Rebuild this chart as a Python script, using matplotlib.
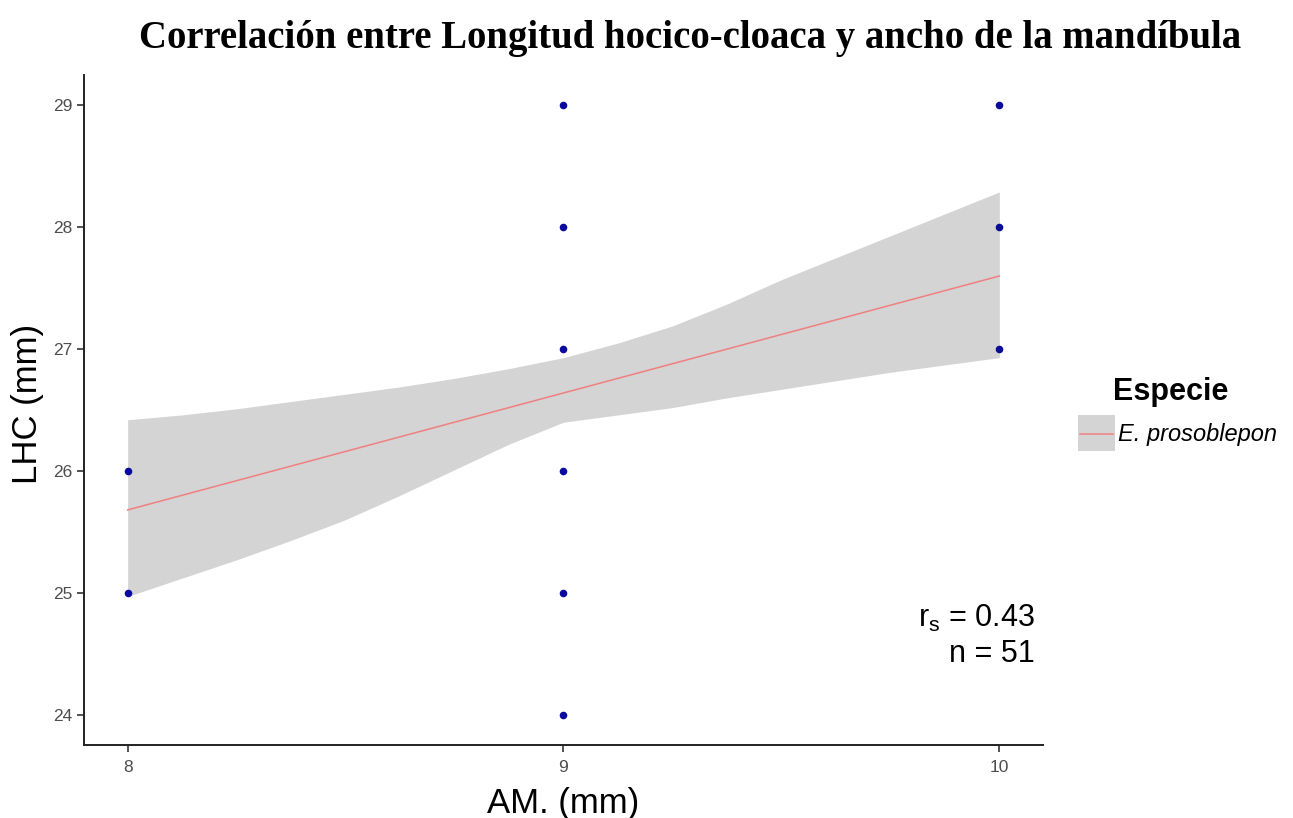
import matplotlib
matplotlib.use("Agg")
import matplotlib.pyplot as plt
from matplotlib.patches import Rectangle
from matplotlib.lines import Line2D

plt.rcParams["font.family"] = ["Liberation Sans", "DejaVu Sans"]
plt.rcParams["mathtext.default"] = "regular"

# observed points (AM mm, LHC mm)
am = [8, 8, 9, 9, 9, 9, 9, 9, 10, 10, 10]
lhc = [25, 26, 24, 25, 26, 27, 28, 29, 27, 28, 29]

# fitted line and confidence band
fit_x = [8, 10]
fit_y = [25.68, 27.60]
band_x = [8, 8.125, 8.25, 8.375, 8.5, 8.625, 8.75, 8.875, 9,
          9.125, 9.25, 9.375, 9.5, 9.625, 9.75, 9.875, 10]
band_lo = [24.97, 25.12, 25.27, 25.43, 25.60, 25.80, 26.01, 26.22, 26.40,
           26.46, 26.52, 26.60, 26.67, 26.74, 26.81, 26.87, 26.93]
band_hi = [26.42, 26.46, 26.51, 26.57, 26.63, 26.69, 26.76, 26.84, 26.93,
           27.05, 27.19, 27.37, 27.57, 27.75, 27.93, 28.11, 28.29]

xticks = [8, 9, 10]
yticks = [24, 25, 26, 27, 28, 29]

fig = plt.figure(figsize=(12.93, 8.18), dpi=100)
ax = fig.add_axes([0.065, 0.0892, 0.7416, 0.8191])

ax.fill_between(band_x, band_lo, band_hi, color="#d4d4d4", lw=0, zorder=1)
ax.plot(fit_x, fit_y, color="#f08080", lw=1.1, zorder=2)
ax.scatter(am, lhc, s=30, color="#0a0a9e", zorder=3, linewidths=0)

ax.set_xlim(7.9, 10.1)
ax.set_ylim(23.75, 29.25)
ax.set_xticks(xticks)
ax.set_yticks(yticks)
ax.tick_params(colors="#333333", labelcolor="#4d4d4d", labelsize=12.5,
               length=5, width=1.2)
ax.tick_params(axis="x", pad=6)
for s in ["top", "right"]:
    ax.spines[s].set_visible(False)
for s in ["left", "bottom"]:
    ax.spines[s].set_linewidth(1.4)
    ax.spines[s].set_color("#222222")

ax.set_xlabel("AM. (mm)", fontsize=25)
ax.xaxis.set_label_coords(0.5, -0.063)
ax.set_ylabel("LHC (mm)", fontsize=25)
ax.yaxis.set_label_coords(-0.042, 0.509)

fig.text(0.534, 0.953, "Correlación entre Longitud hocico-cloaca y ancho de la mandíbula",
         ha="center", va="center", fontsize=27.9, fontweight="bold",
         family=["Liberation Serif", "DejaVu Serif"])

ax.text(0.9917, 0.176, "r$_s$ = 0.43", transform=ax.transAxes, ha="right",
        va="baseline", fontsize=22)
ax.text(0.9917, 0.124, "n = 51", transform=ax.transAxes, ha="right",
        va="baseline", fontsize=22)

# legend
fig.text(1113 / 1293, 1 - 392 / 818, "Especie", fontsize=22, fontweight="bold",
         va="center", ha="left")
fig.patches.append(Rectangle((1078 / 1293, 1 - 451 / 818), 37 / 1293, 36 / 818,
                             transform=fig.transFigure, color="#d4d4d4", lw=0))
fig.lines.append(Line2D([1080 / 1293, 1113 / 1293], [1 - 434 / 818] * 2,
                        transform=fig.transFigure, color="#f08080", lw=1.1))
fig.text(1118 / 1293, 1 - 435 / 818, "E. prosoblepon", fontsize=17,
         style="italic", va="center", ha="left")

fig.savefig("out.png", dpi=100)
